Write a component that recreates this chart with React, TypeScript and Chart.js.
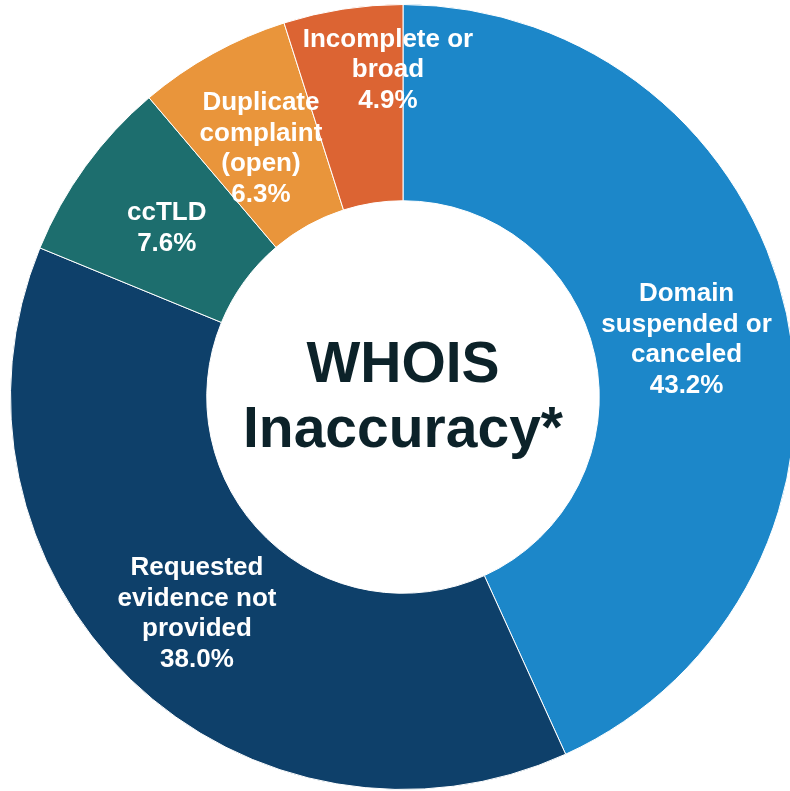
import React, { useEffect, useRef } from "react";
import { Chart, registerables } from "chart.js";

Chart.register(...registerables);

const categories = [
  "Domain suspended or canceled",
  "Requested evidence not provided",
  "ccTLD",
  "Duplicate complaint (open)",
  "Incomplete or broad",
];
const labelLines = [
  ["Domain", "suspended or", "canceled"],
  ["Requested", "evidence not", "provided"],
  ["ccTLD"],
  ["Duplicate", "complaint", "(open)"],
  ["Incomplete or", "broad"],
];
const values = [43.2, 38.0, 7.6, 6.3, 4.9];
const centerTitle = ["WHOIS", "Inaccuracy*"];

// styles
const colors = ["#1C87C9", "#0E406A", "#1D6E6E", "#E9953B", "#DC6433"];
const labelRadius = [283, 297, 292, 287, 333];
const labelShift = [
  [7, 3],
  [0, 3],
  [0, 3],
  [-3, 3],
  [36, 2],
];

const labelPlugin = {
  id: "sliceLabels",
  afterDatasetsDraw(chart: any) {
    const ctx = chart.ctx;
    const meta = chart.getDatasetMeta(0);
    ctx.save();
    ctx.textAlign = "center";
    ctx.textBaseline = "middle";
    ctx.fillStyle = "#ffffff";
    ctx.font = "bold 26px 'Liberation Sans', Arial, sans-serif";
    const lh = 30.5;
    meta.data.forEach((el: any, i: number) => {
      const p = el.getProps(["x", "y", "startAngle", "endAngle"], true);
      const mid = (p.startAngle + p.endAngle) / 2;
      const cx = p.x + Math.cos(mid) * labelRadius[i] + labelShift[i][0];
      const cy = p.y + Math.sin(mid) * labelRadius[i] + labelShift[i][1];
      const lines = [...labelLines[i], values[i].toFixed(1) + "%"];
      const top = cy - ((lines.length - 1) * lh) / 2;
      lines.forEach((t, j) => ctx.fillText(t, cx, top + j * lh));
    });
    // center title
    const el0 = meta.data[0];
    if (el0) {
      const c = el0.getProps(["x", "y"], true);
      ctx.fillStyle = "#0C2229";
      ctx.font = "bold 57px 'Liberation Sans', Arial, sans-serif";
      ctx.fillText(centerTitle[0], c.x, c.y - 30.5);
      ctx.fillText(centerTitle[1], c.x, c.y + 34.5);
    }
    ctx.restore();
  },
};

export default function App() {
  const ref = useRef<HTMLCanvasElement>(null);
  useEffect(() => {
    if (!ref.current) return;
    const chart = new Chart(ref.current, {
      type: "doughnut",
      data: {
        labels: categories,
        datasets: [
          {
            data: values,
            backgroundColor: colors,
            borderColor: "#ffffff",
            borderWidth: 1,
          },
        ],
      },
      options: {
        responsive: false,
        animation: false,
        cutout: "50%",
        layout: { padding: 4 },
        plugins: {
          legend: { display: false },
          tooltip: { enabled: false },
        },
      },
      plugins: [labelPlugin],
    });
    return () => chart.destroy();
  }, []);
  return (
    <div
      style={{
        position: "fixed",
        left: 0,
        top: 0,
        width: 790,
        height: 791,
        overflow: "hidden",
        background: "#ffffff",
      }}
    >
      <canvas
        ref={ref}
        width={806}
        height={794}
        style={{ width: 806, height: 794, display: "block" }}
      />
    </div>
  );
}
